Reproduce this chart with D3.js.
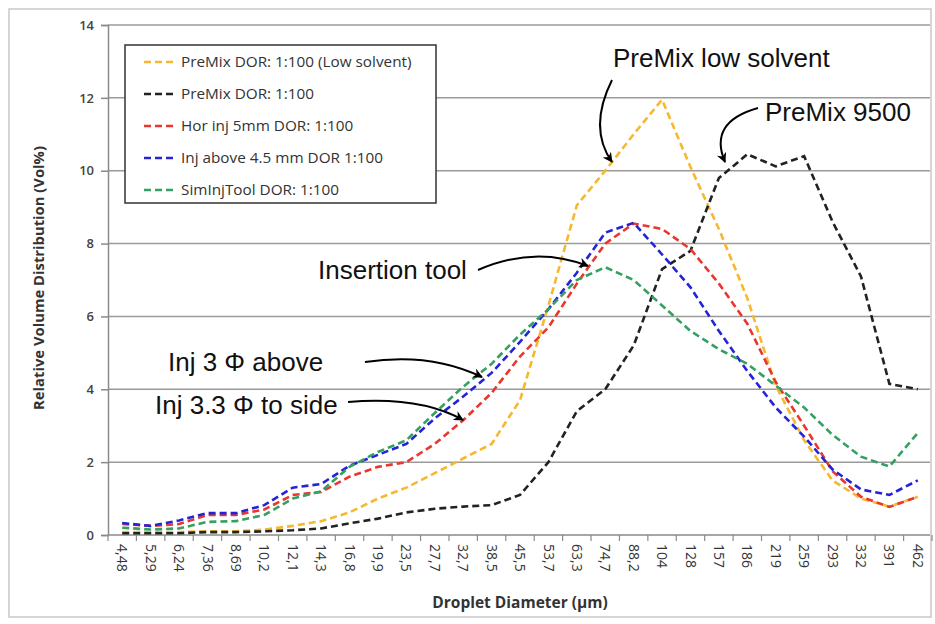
<!DOCTYPE html>
<html>
<head>
<meta charset="utf-8">
<script src="https://cdn.jsdelivr.net/npm/d3@7"></script>
<style>
  body { margin: 0; background: #fff; }
  svg { display: block; }
</style>
</head>
<body>
<svg id="chart" width="935" height="624"></svg>
<script>
// Droplet diameter classes (µm), as printed on the axis.
let categories = ["4,48", "5,29", "6,24", "7,36", "8,69", "10,2", "12,1", "14,3", "16,8", "19,9",
    "23,5", "27,7", "32,7", "38,5", "45,5", "53,7", "63,3", "74,7", "88,2", "104",
    "128", "157", "186", "219", "259", "293", "332", "391", "462"];

let premixLowSolvent = [0.08, 0.08, 0.08, 0.1, 0.1, 0.15, 0.25, 0.38, 0.62, 1.0,
    1.3, 1.7, 2.1, 2.5, 3.7, 6.3, 9.05, 10.0, 11.0, 11.95,
    10.1, 8.4, 6.5, 4.1, 2.6, 1.5, 1.0, 0.78, 1.05];

let premix = [0.05, 0.05, 0.05, 0.08, 0.08, 0.1, 0.13, 0.18, 0.32, 0.45,
    0.62, 0.72, 0.78, 0.82, 1.1, 2.0, 3.4, 4.0, 5.2, 7.3,
    7.8, 9.8, 10.45, 10.12, 10.4, 8.6, 7.1, 4.15, 4.0];

let horInj = [0.3, 0.25, 0.3, 0.55, 0.55, 0.7, 1.1, 1.18, 1.6, 1.87,
    2.0, 2.5, 3.15, 3.9, 4.9, 5.7, 6.9, 8.0, 8.55, 8.4,
    7.85, 6.9, 5.8, 4.2, 3.0, 1.75, 1.05, 0.77, 1.05];

let injAbove = [0.33, 0.25, 0.4, 0.6, 0.6, 0.82, 1.3, 1.4, 1.9, 2.2,
    2.5, 3.2, 3.8, 4.45, 5.3, 6.2, 7.2, 8.3, 8.57, 7.7,
    6.8, 5.6, 4.5, 3.5, 2.7, 1.8, 1.25, 1.1, 1.5];

let simInjTool = [0.2, 0.15, 0.18, 0.36, 0.38, 0.55, 1.0, 1.2, 1.87, 2.28,
    2.6, 3.35, 4.07, 4.7, 5.5, 6.2, 7.0, 7.35, 7.0, 6.3,
    5.6, 5.1, 4.7, 4.1, 3.5, 2.75, 2.15, 1.88, 2.8];

let seriesNames = ["PreMix DOR: 1:100 (Low solvent)", "PreMix DOR: 1:100", "Hor inj 5mm DOR: 1:100",
    "Inj above 4.5 mm DOR 1:100", "SimInjTool DOR: 1:100"];
let seriesColors = ["#f5b82e", "#222222", "#e8372f", "#2424d6", "#35a062"];
let seriesValues = [premixLowSolvent, premix, horInj, injAbove, simInjTool];

let yTicks = [0, 2, 4, 6, 8, 10, 12, 14];

let axisFont = "'Open Sans', 'Noto Sans', sans-serif";
let noteFont = "'Liberation Sans', Arial, sans-serif";

let svg = d3.select("#chart");

let x = d3.scaleBand().domain(categories).range([108, 932]);
let y = d3.scaleLinear().domain([0, 14]).range([535, 25]);
let cx = c => x(c) + x.bandwidth() / 2;

// Outer frame
svg.append("rect")
    .attr("x", 9).attr("y", 9)
    .attr("width", 922).attr("height", 608)
    .attr("fill", "none")
    .attr("stroke", "#c8c8c8")
    .attr("stroke-width", 1.5);

// Gridlines
svg.append("g")
    .selectAll("line")
    .data(yTicks.filter(d => d > 0))
    .enter()
    .append("line")
    .attr("x1", 108).attr("x2", 930)
    .attr("y1", d => y(d)).attr("y2", d => y(d))
    .attr("stroke", "#9a9a9a")
    .attr("stroke-width", 1.5);

// Y axis
let yAxis = svg.append("g")
    .attr("transform", "translate(108,0)")
    .call(d3.axisLeft(y).tickValues(yTicks).tickSize(7).tickPadding(7));
yAxis.select(".domain").attr("stroke", "#8a8a8a").attr("stroke-width", 1.5);
yAxis.selectAll(".tick line").attr("stroke", "#8a8a8a").attr("stroke-width", 1.5);
yAxis.selectAll("text")
    .style("font-family", axisFont)
    .style("font-size", "13px")
    .style("font-weight", "600")
    .attr("fill", "#444");

// X axis: labels centred in each band, ticks on band edges
let xAxis = svg.append("g")
    .attr("transform", "translate(0,535)")
    .call(d3.axisBottom(x).tickSize(0).tickPadding(0));
xAxis.select(".domain").remove();
xAxis.selectAll("text")
    .attr("x", 0).attr("y", 0)
    .attr("dy", "0.35em")
    .attr("transform", "translate(0,9) rotate(90)")
    .style("text-anchor", "start")
    .style("font-family", axisFont)
    .style("font-size", "14px")
    .attr("fill", "#333");

svg.append("line")
    .attr("x1", 108).attr("x2", 930)
    .attr("y1", y(0)).attr("y2", y(0))
    .attr("stroke", "#8a8a8a")
    .attr("stroke-width", 1.5);

svg.append("g")
    .selectAll("line")
    .data(categories.map(c => x(c)).concat([x.range()[1]]))
    .enter()
    .append("line")
    .attr("x1", d => d).attr("x2", d => d)
    .attr("y1", y(0)).attr("y2", y(0) + 6)
    .attr("stroke", "#8a8a8a")
    .attr("stroke-width", 1.2);

// Axis titles
svg.append("text")
    .attr("transform", "translate(44,278) rotate(-90)")
    .attr("text-anchor", "middle")
    .style("font-family", axisFont)
    .style("font-size", "14.8px")
    .style("font-weight", "700")
    .attr("fill", "#333")
    .text("Relative Volume Distribution (Vol%)");

svg.append("text")
    .attr("x", 520).attr("y", 608)
    .attr("text-anchor", "middle")
    .style("font-family", axisFont)
    .style("font-size", "15.5px")
    .style("font-weight", "700")
    .attr("fill", "#333")
    .text("Droplet Diameter (µm)");

// Series lines
let line = d3.line()
    .x((d, i) => cx(categories[i]))
    .y(d => y(d));

svg.append("g")
    .selectAll("path")
    .data(seriesValues)
    .enter()
    .append("path")
    .attr("d", d => line(d))
    .attr("fill", "none")
    .attr("stroke", (d, i) => seriesColors[i])
    .attr("stroke-width", 2.6)
    .attr("stroke-dasharray", "7,4");

// Legend
let legend = svg.append("g");
legend.append("rect")
    .attr("x", 125).attr("y", 45)
    .attr("width", 311).attr("height", 158)
    .attr("fill", "#fff")
    .attr("stroke", "#333")
    .attr("stroke-width", 1.5);

let legendRows = legend.selectAll("g.row")
    .data(seriesNames)
    .enter()
    .append("g")
    .classed("row", true)
    .attr("transform", (d, i) => `translate(0,${62 + i * 32})`);
legendRows.append("line")
    .attr("x1", 144).attr("x2", 177)
    .attr("y1", 0).attr("y2", 0)
    .attr("stroke", (d, i) => seriesColors[i])
    .attr("stroke-width", 2.6)
    .attr("stroke-dasharray", "7,4");
legendRows.append("text")
    .attr("x", 181).attr("y", 0)
    .attr("dy", "0.35em")
    .style("font-family", axisFont)
    .style("font-size", "15.3px")
    .attr("fill", "#333")
    .text(d => d);

// Annotations with curved arrows
svg.append("defs").append("marker")
    .attr("id", "head")
    .attr("viewBox", "0 0 10 10")
    .attr("refX", 9).attr("refY", 5)
    .attr("markerWidth", 5).attr("markerHeight", 5)
    .attr("orient", "auto")
    .append("path")
    .attr("d", "M0,0 L10,5 L0,10 L3,5 Z")
    .attr("fill", "#000");

let notes = [
    { text: "PreMix low solvent", x: 613, y: 67, path: [[612, 80], [588, 128], [612, 162]] },
    { text: "PreMix 9500", x: 765, y: 121, path: [[758, 108], [708, 122], [725, 162]] },
    { text: "Insertion tool", x: 318, y: 279, path: [[478, 270], [535, 245], [588, 266]] },
    { text: "Inj 3 \u03A6 above", x: 168, y: 371, path: [[365, 362], [430, 352], [482, 377]] },
    { text: "Inj 3.3 \u03A6 to side", x: 155, y: 414, path: [[348, 402], [420, 396], [463, 420]] }
];

notes.forEach(n => {
    svg.append("text")
        .attr("x", n.x).attr("y", n.y)
        .style("font-family", noteFont)
        .style("font-size", "26px")
        .attr("fill", "#111")
        .text(n.text);
    let p = n.path;
    svg.append("path")
        .attr("d", `M${p[0][0]},${p[0][1]} Q${p[1][0]},${p[1][1]} ${p[2][0]},${p[2][1]}`)
        .attr("fill", "none")
        .attr("stroke", "#000")
        .attr("stroke-width", 2)
        .attr("marker-end", "url(#head)");
});
</script>
</body>
</html>
